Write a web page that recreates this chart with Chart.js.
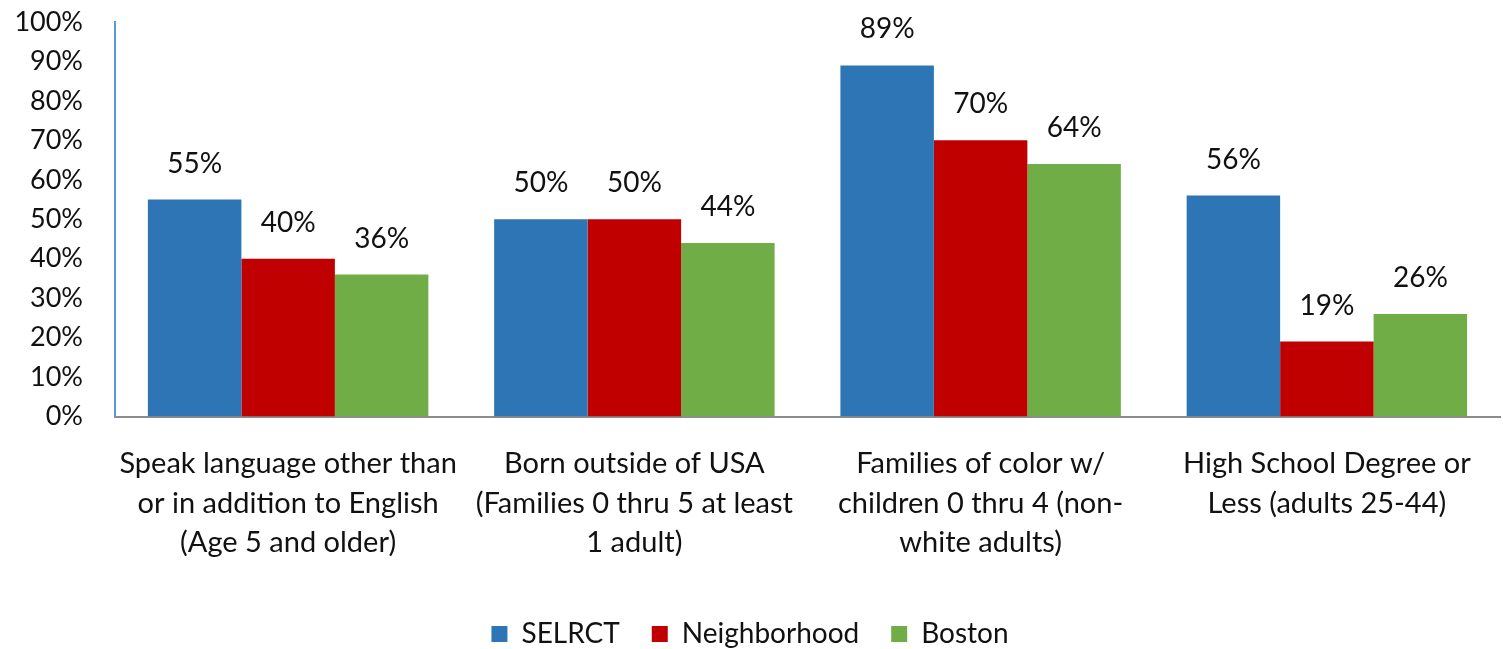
<!DOCTYPE html>
<html>
<head>
<meta charset="utf-8">
<script src="https://cdn.jsdelivr.net/npm/chart.js@4"></script>
<style>
  body { margin: 0; background: #fff; }
  #wrap { width: 1503px; height: 649px; }
</style>
</head>
<body>
<div id="wrap"><canvas id="chart"></canvas></div>
<script>
var categorias = [
  ["Speak language other than", "or in addition to English", "(Age 5 and older)"],
  ["Born outside of USA", "(Families 0 thru 5 at least", "1 adult)"],
  ["Families of color w/", "children 0 thru 4 (non-", "white adults)"],
  ["High School Degree or", "Less (adults 25-44)"]
];
var selrct = [55, 50, 89, 56];
var neighborhood = [40, 50, 70, 19];
var boston = [36, 44, 64, 26];
var seriesNomes = ["SELRCT", "Neighborhood", "Boston"];
var cores = ["#2e75b6", "#c00000", "#70ad47"];

var fonte = "Lato, 'Open Sans', sans-serif";

// escreve o valor em cima de cada barra
var rotulos = {
  id: "rotulos",
  afterDatasetsDraw: function (chart) {
    var ctx = chart.ctx;
    ctx.save();
    ctx.font = "28px " + fonte;
    ctx.fillStyle = "#111";
    ctx.textAlign = "center";
    ctx.textBaseline = "middle";
    chart.data.datasets.forEach(function (ds, i) {
      chart.getDatasetMeta(i).data.forEach(function (bar, j) {
        ctx.fillText(ds.data[j] + "%", bar.x, bar.y - 36);
      });
    });
    ctx.restore();
  }
};

var ctx = document.getElementById("chart").getContext("2d");
var chart = new Chart(ctx, {
  type: "bar",
  data: {
    labels: categorias,
    datasets: [
      { label: seriesNomes[0], data: selrct, backgroundColor: cores[0] },
      { label: seriesNomes[1], data: neighborhood, backgroundColor: cores[1] },
      { label: seriesNomes[2], data: boston, backgroundColor: cores[2] }
    ]
  },
  options: {
    responsive: true,
    maintainAspectRatio: false,
    animation: false,
    layout: { padding: { top: 22, right: 3, bottom: -9, left: 0 } },
    datasets: { bar: { categoryPercentage: 0.81, barPercentage: 1 } },
    plugins: {
      tooltip: { enabled: false },
      legend: {
        position: "bottom",
        labels: {
          font: { family: fonte, size: 28 },
          color: "#111",
          boxWidth: 16,
          boxHeight: 16,
          padding: 32
        }
      }
    },
    scales: {
      x: {
        grid: { display: false },
        border: { color: "#8c8c8c", width: 2 },
        afterFit: function (scale) { scale.height += 6; },
        ticks: {
          font: { family: fonte, size: 29, lineHeight: 1.35 },
          color: "#111",
          maxRotation: 0,
          autoSkip: false,
          padding: 20
        }
      },
      y: {
        min: 0,
        max: 100,
        grid: { display: false },
        border: { color: "#5b9bd5", width: 2 },
        afterFit: function (scale) {
          scale.width = 115;
          scale.paddingTop = 0;
          scale.paddingBottom = 0;
        },
        ticks: {
          stepSize: 10,
          font: { family: fonte, size: 27 },
          color: "#111",
          padding: 24,
          callback: function (v) { return v + "%"; }
        }
      }
    }
  },
  plugins: [rotulos]
});
</script>
</body>
</html>
